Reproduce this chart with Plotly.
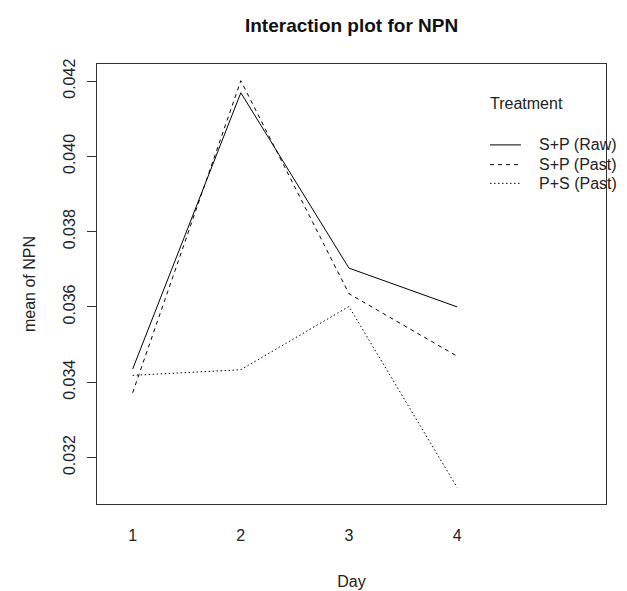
import plotly.graph_objects as go

days = [1, 2, 3, 4]
day_labels = ["1", "2", "3", "4"]
treatments = ["S+P (Raw)", "S+P (Past)", "P+S (Past)"]
npn_sp_raw = [0.03435, 0.04169, 0.03703, 0.03600]
npn_sp_past = [0.03372, 0.04201, 0.03635, 0.03469]
npn_ps_past = [0.03418, 0.03433, 0.03601, 0.03120]
y_ticks = [0.032, 0.034, 0.036, 0.038, 0.040, 0.042]

series = [npn_sp_raw, npn_sp_past, npn_ps_past]
dashes = ["solid", "4px,4px", "1.5px,2.5px"]

FONT = "Liberation Sans, Arial, Helvetica, sans-serif"
TXT = "#222"

fig = go.Figure()
for name, vals, d in zip(treatments, series, dashes):
    fig.add_trace(go.Scatter(
        x=days, y=vals, mode="lines", name=name,
        line=dict(color="black", width=1, dash=d),
        showlegend=False,
    ))

# Manual legend (R style): title, then line samples with labels
leg_x0, leg_x1, leg_tx = 0.7721, 0.8330, 0.8644
leg_rows = [0.8161, 0.7713, 0.7287]
annotations = [dict(text="Treatment", x=0.7682, y=0.9103, xref="paper", yref="paper",
                    xanchor="left", yanchor="middle", showarrow=False,
                    font=dict(size=16, color=TXT, family=FONT))]
shapes = []
for name, d, yy in zip(treatments, dashes, leg_rows):
    shapes.append(dict(type="line", xref="paper", yref="paper",
                       x0=leg_x0, x1=leg_x1, y0=yy, y1=yy,
                       line=dict(color="black", width=1, dash=d)))
    annotations.append(dict(text=name, x=leg_tx, y=yy, xref="paper", yref="paper",
                            xanchor="left", yanchor="middle", showarrow=False,
                            font=dict(size=16, color=TXT, family=FONT)))

fig.update_layout(
    width=627, height=591,
    margin=dict(l=89, r=29, t=56, b=89),
    paper_bgcolor="white", plot_bgcolor="white",
    font=dict(family=FONT, size=16, color=TXT),
    title=dict(text="<b>Interaction plot for NPN</b>", x=0.548, xanchor="center",
               y=0.971, yanchor="middle", font=dict(size=19, color="#111")),
    showlegend=False,
    annotations=annotations,
    shapes=shapes,
    xaxis=dict(
        range=[0.67, 5.377], tickvals=days, ticktext=day_labels,
        showgrid=False, zeroline=False, ticks="",
        showline=True, linecolor="#333", linewidth=1, mirror=True,
        ticklabelstandoff=17, tickfont=dict(size=16),
        title=dict(text="Day", standoff=32, font=dict(size=16)),
    ),
    yaxis=dict(
        range=[0.030762, 0.042454], tickvals=y_ticks, tickformat=".3f",
        showgrid=False, zeroline=False, ticks="outside", ticklen=9,
        tickcolor="#333", tickangle=-90, ticklabelstandoff=6,
        showline=True, linecolor="#333", linewidth=1, mirror=True,
        tickfont=dict(size=16),
        title=dict(text="mean of NPN", standoff=20, font=dict(size=16)),
    ),
)

fig.write_html("out.html")
